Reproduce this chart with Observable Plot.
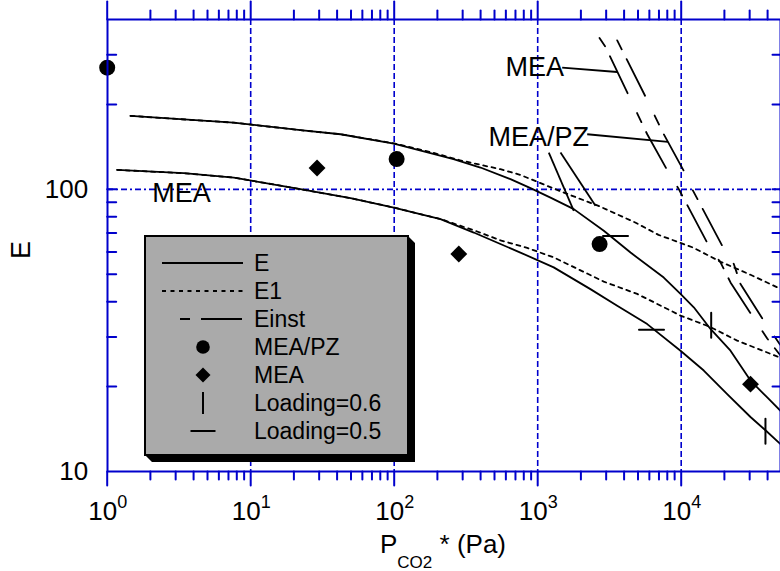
<!DOCTYPE html>
<html><head><meta charset="utf-8">
<script src="https://cdn.jsdelivr.net/npm/d3@7"></script>
<script src="https://cdn.jsdelivr.net/npm/@observablehq/plot@0.6"></script>
<style>
html,body{margin:0;padding:0;background:#fff;overflow:hidden;}
#chart svg{display:block;overflow:hidden;}
</style></head><body><div id="chart"></div>
<script>
// ---------- data ----------
// MEA/PZ model curves (upper pair)
const mpzE_x  = [1.454, 7.59, 22.2, 42.3, 99.4, 259, 399, 646, 891, 1228, 1785, 2888, 4435, 7560, 9890, 12240, 16000, 22060, 30400, 39770, 49200];
const mpzE_y  = [182.1, 172.4, 162.1, 156.8, 145.3, 127.9, 119.5, 108.7, 101.0, 93.5, 85.1, 71.3, 59.7, 48.7, 42.6, 38.2, 32.0, 26.8, 21.0, 18.3, 16.4];
const mpzE1_x = [1.454, 7.59, 22.2, 42.3, 99.4, 187.9, 289.3, 549.7, 757.5, 1520, 2652, 4780, 6946, 12180, 18790, 30400, 49200];
const mpzE1_y = [182.1, 172.4, 162.1, 156.8, 145.6, 134.7, 126.7, 117.9, 112.5, 97.4, 87.4, 76.3, 69.0, 62.1, 55.4, 49.8, 44.4];
// MEA model curves (lower pair)
const meaE_x  = [1.174, 3.42, 7.63, 22.2, 49.6, 99.4, 210.2, 358.5, 549.7, 757.5, 1293, 2330, 3581, 5797, 9890, 14370, 20920, 30400, 38670, 49200];
const meaE_y  = [117.2, 114.1, 110.1, 100.2, 93.1, 86.2, 78.4, 70.3, 64.0, 59.7, 52.9, 44.3, 38.7, 33.3, 26.8, 22.8, 18.8, 15.6, 14.0, 12.5];
const meaE1_x = [1.174, 3.42, 7.63, 22.2, 49.6, 99.4, 210.2, 378.8, 549.7, 845, 1293, 2888, 4936, 9890, 16000, 24560, 49200];
const meaE1_y = [117.2, 114.1, 110.1, 100.2, 93.1, 86.2, 78.5, 70.9, 66.0, 62.0, 57.4, 47.1, 42.6, 35.7, 32.5, 29.1, 25.3];
// Einst curves
const einstA_x = [2696, 2969, 4246, 5797, 7988, 9622, 15570, 18790, 22060, 32950, 39770, 50000];
const einstA_y = [343.9, 319.4, 218.3, 156.8, 117.0, 100.2, 63.1, 55.1, 46.8, 34.2, 29.6, 25.5];
const einstB_x = [3581, 5576, 7560, 10420, 11930, 19310, 23260, 25900, 37640, 50000];
const einstB_y = [337.4, 215.6, 156.8, 116.3, 100.2, 63.1, 54.4, 46.2, 34.2, 27.7];
// measured points
const mpzPts_x = [1.0, 104, 2700];
const mpzPts_y = [270, 128, 64];
const meaPts_x = [29, 282, 30400];
const meaPts_y = [119, 59, 20.4];
const load06_x = [16180, 38650];
const load06_y = [33.0, 13.9];
const load05_x = [3485, 6210];
const load05_y = [68.4, 31.8];
// annotations
const annText  = ["MEA", "MEA", "MEA/PZ"];
const annX     = [2.06, 596.6, 454];
const annY     = [96.4, 271.5, 153.4];
const leadX1 = [1481, 2213, 1195, 1442];
const leadY1 = [269.9, 156.8, 135.0, 135.0];
const leadX2 = [3581, 8091, 1785, 2528];
const leadY2 = [260.6, 147.3, 83.9, 87.4];
// axes
const xDecades = [1, 10, 100, 1000, 10000];
const xExponents = ["0", "1", "2", "3", "4"];
const xMinor = [2,3,4,5,6,7,8,9,20,30,40,50,60,70,80,90,200,300,400,500,600,700,800,900,2000,3000,4000,5000,6000,7000,8000,9000,20000,30000,40000];
const yMinor = [20,30,40,50,60,70,80,90,200,300];
const yLabels = [10, 100];
const gridX = [10, 100, 1000, 10000];
const gridY = [100];
const legendLabels = ["E", "E1", "Einst", "MEA/PZ", "MEA", "Loading=0.6", "Loading=0.5"];

// ---------- chart ----------
const BLUE = "#0000cc";
const FONT = "'Liberation Sans', Arial, Helvetica, sans-serif";
const pts = (xs, ys) => xs.map((x, i) => ({x, y: ys[i]}));
const seg = {draw(ctx, l) { ctx.moveTo(0, 0); ctx.lineTo(0, -l); }};
const EINST_DASH = "10,11,41,22";
const DOT_DASH = "4,4.5";
const GRID_DASH = "6,3";

const plot = Plot.plot({
  width: 780, height: 571,
  marginTop: 19, marginBottom: 100, marginLeft: 107, marginRight: 0,
  style: {background: "white", fontFamily: FONT, overflow: "hidden"},
  x: {type: "log", domain: [1, 5e4], range: [106.7, 781], axis: null},
  y: {type: "log", domain: [10, 400], range: [471, 19], axis: null},
  marks: [
    Plot.ruleX(gridX, {x: d => d, stroke: BLUE, strokeWidth: 1.6, strokeDasharray: GRID_DASH}),
    Plot.ruleY(gridY, {y: d => d, stroke: BLUE, strokeWidth: 1.6, strokeDasharray: "6,3,2,3"}),
    // curves
    Plot.line(pts(mpzE_x, mpzE_y), {x: "x", y: "y", stroke: "black", strokeWidth: 1.8, clip: true}),
    Plot.line(pts(mpzE1_x, mpzE1_y), {x: "x", y: "y", stroke: "black", strokeWidth: 1.8, strokeDasharray: DOT_DASH, clip: true}),
    Plot.line(pts(meaE_x, meaE_y), {x: "x", y: "y", stroke: "black", strokeWidth: 1.8, clip: true}),
    Plot.line(pts(meaE1_x, meaE1_y), {x: "x", y: "y", stroke: "black", strokeWidth: 1.8, strokeDasharray: DOT_DASH, clip: true}),
    Plot.line(pts(einstA_x, einstA_y), {x: "x", y: "y", stroke: "black", strokeWidth: 1.8, strokeDasharray: EINST_DASH, clip: true}),
    Plot.line(pts(einstB_x, einstB_y), {x: "x", y: "y", stroke: "black", strokeWidth: 1.8, strokeDasharray: EINST_DASH, clip: true}),
    // leader lines
    Plot.link(leadX1.map((x, i) => i), {x1: i => leadX1[i], y1: i => leadY1[i], x2: i => leadX2[i], y2: i => leadY2[i], stroke: "black", strokeWidth: 1.8}),
    // annotation labels
    Plot.text(annText, {x: (d, i) => annX[i], y: (d, i) => annY[i], text: d => d, textAnchor: "start", lineAnchor: "middle", fontSize: 27, fill: "black"}),
    // points
    Plot.dot(pts(mpzPts_x, mpzPts_y), {x: "x", y: "y", r: 8, fill: "black", stroke: null}),
    Plot.dot(pts(meaPts_x, meaPts_y), {x: "x", y: "y", r: 7.6, symbol: "diamond2", fill: "black", stroke: null}),
    Plot.vector(pts(load06_x, load06_y), {x: "x", y: "y", length: 25, rotate: 0, anchor: "middle", shape: seg, stroke: "black", strokeWidth: 2}),
    Plot.vector(pts(load05_x, load05_y), {x: "x", y: "y", length: 25, rotate: 90, anchor: "middle", shape: seg, stroke: "black", strokeWidth: 2}),
    // frame
    Plot.frame({stroke: BLUE, strokeWidth: 2}),
    // ticks: left (inward), right (inward)
    Plot.vector(yMinor.concat([100]), {x: 1, y: d => d, length: 9, rotate: 90, anchor: "start", shape: seg, stroke: BLUE, strokeWidth: 2}),
    Plot.vector(yMinor.concat([100]), {x: 5e4, y: d => d, length: 9, rotate: 270, anchor: "start", shape: seg, stroke: BLUE, strokeWidth: 2}),
    // top (outward)
    Plot.vector(xMinor, {x: d => d, y: 400, length: 9, rotate: 0, anchor: "start", shape: seg, stroke: BLUE, strokeWidth: 2}),
    Plot.vector(xDecades, {x: d => d, y: 400, length: 18, rotate: 0, anchor: "start", shape: seg, stroke: BLUE, strokeWidth: 2}),
    // bottom (outward)
    Plot.vector(xMinor, {x: d => d, y: 10, length: 8, rotate: 180, anchor: "start", shape: seg, stroke: BLUE, strokeWidth: 2}),
    Plot.vector(xDecades, {x: d => d, y: 10, length: 14, rotate: 180, anchor: "start", shape: seg, stroke: BLUE, strokeWidth: 2}),
    // tick labels
    Plot.text(yLabels, {x: 1, y: d => d, text: d => String(d), dx: -19, textAnchor: "end", lineAnchor: "middle", fontSize: 26, fill: "black"}),
    Plot.text(xDecades, {x: d => d, y: 10, text: () => "10", dx: 10, dy: 40, textAnchor: "end", lineAnchor: "middle", fontSize: 26, fill: "black"}),
    Plot.text(xDecades, {x: d => d, y: 10, text: (d, i) => xExponents[i], dx: 10, dy: 31, textAnchor: "start", lineAnchor: "middle", fontSize: 18, fill: "black"})
  ]
});
document.getElementById("chart").appendChild(plot);

// ---------- titles & legend ----------
const svg = d3.select(plot);
const g = svg.append("g").attr("font-family", FONT).attr("fill", "black").attr("text-anchor", "start");
// y title
g.append("text").attr("transform", "translate(30,250) rotate(-90)").attr("text-anchor", "middle")
  .attr("font-size", 27).text("E");
// x title
const xt = g.append("text").attr("x", 380).attr("y", 553).attr("font-size", 26).attr("text-anchor", "start");
xt.append("tspan").text("P");
xt.append("tspan").attr("font-size", 17).attr("dy", 15).text("CO2");
xt.append("tspan").attr("dy", -15).text(" * (Pa)");

// legend box with shadow
const L = {x0: 145, y0: 236, x1: 408, y1: 455, off: 7};
g.append("polygon").attr("fill", "black")
  .attr("points", `${L.x1},${L.y0} ${L.x1+L.off},${L.y0+L.off} ${L.x1+L.off},${L.y1+L.off} ${L.x0+L.off},${L.y1+L.off} ${L.x0},${L.y1} ${L.x1},${L.y1}`);
g.append("rect").attr("x", L.x0).attr("y", L.y0).attr("width", L.x1 - L.x0).attr("height", L.y1 - L.y0)
  .attr("fill", "#aaaaaa").attr("stroke", "black").attr("stroke-width", 2);
const rowY = i => 263 + 28 * i;
const sx0 = 162, sx1 = 243, sc = 203;
legendLabels.forEach((lab, i) => {
  const y = rowY(i);
  if (i === 0) g.append("line").attr("x1", sx0).attr("x2", sx1).attr("y1", y).attr("y2", y).attr("stroke", "black").attr("stroke-width", 1.8);
  if (i === 1) g.append("line").attr("x1", sx0).attr("x2", sx1).attr("y1", y).attr("y2", y).attr("stroke", "black").attr("stroke-width", 1.8).attr("stroke-dasharray", DOT_DASH);
  if (i === 2) g.append("line").attr("x1", sx0).attr("x2", sx1).attr("y1", y).attr("y2", y).attr("stroke", "black").attr("stroke-width", 1.8).attr("stroke-dasharray", EINST_DASH).attr("stroke-dashoffset", 66);
  if (i === 3) g.append("circle").attr("cx", sc).attr("cy", y).attr("r", 6.8).attr("fill", "black");
  if (i === 4) g.append("path").attr("d", `M${sc},${y-7.5}L${sc+7.5},${y}L${sc},${y+7.5}L${sc-7.5},${y}Z`).attr("fill", "black");
  if (i === 5) g.append("line").attr("x1", sc).attr("x2", sc).attr("y1", y - 11).attr("y2", y + 11).attr("stroke", "black").attr("stroke-width", 2);
  if (i === 6) g.append("line").attr("x1", sc - 12.5).attr("x2", sc + 12.5).attr("y1", y).attr("y2", y).attr("stroke", "black").attr("stroke-width", 2);
  g.append("text").attr("x", 254).attr("y", y).attr("dy", "0.35em").attr("font-size", 23).attr("text-anchor", "start").text(lab);
});
</script>
</body></html>
